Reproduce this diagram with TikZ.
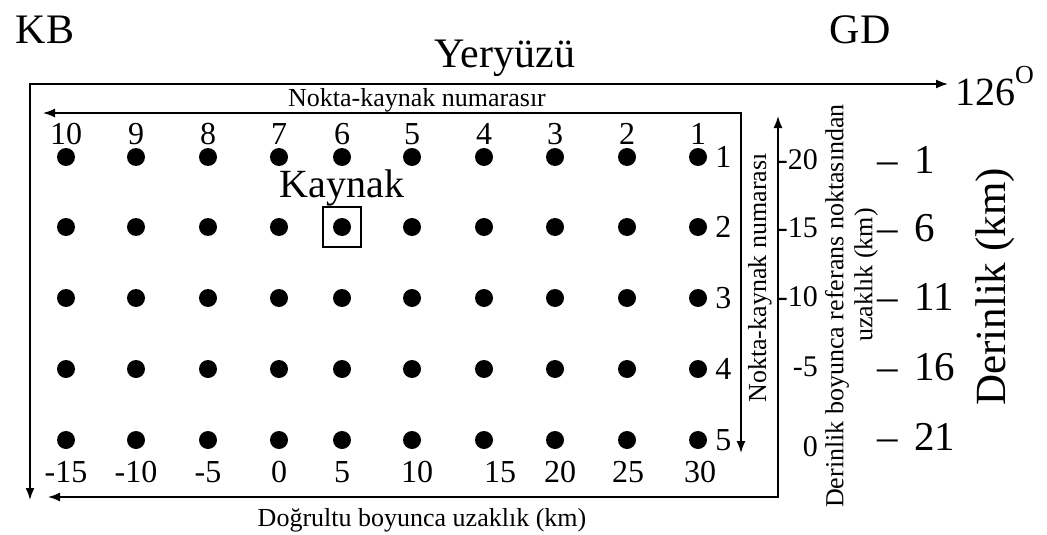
\documentclass[tikz,border=0pt]{standalone}
\usepackage{fontspec}
\setmainfont{Liberation Serif}
\usetikzlibrary{arrows.meta,positioning}
\newcommand\fsz[1]{\fontsize{#1}{#1}\selectfont}
\tikzset{
  dot/.style={circle,fill,inner sep=0pt,minimum size=18pt},
  txt/.style={inner sep=0pt,font=\fsz{#1}},
  txt/.default=32,
  ln/.style={line width=1.5pt},
  tip/.style={-{Latex[length=12pt,width=9pt]}},
  tips/.style={{Latex[length=12pt,width=9pt]}-{Latex[length=12pt,width=9pt]}}
}
\begin{document}
\begin{tikzpicture}[x=1pt,y=-1pt]
\useasboundingbox (0,0) rectangle (1047,535);
\foreach \x [count=\c] in {66,136,208,279,342,412,484,555,627,698}{
  \foreach \y [count=\r] in {157,227,298,369,440}
    \node[dot] (d-\c-\r) at (\x,\y) {};
}
\foreach \c in {1,...,10}{
  \pgfmathtruncatemacro\n{11-\c}
  \node[txt,above=3pt of d-\c-1] (t-\c) {\n};
}
\foreach \v/\dx [count=\c] in {-15/0,-10/0,-5/0,0/0,5/0,10/5,15/16,20/5,25/1,30/2}
  \node[txt,below=12pt of d-\c-5,xshift=\dx pt] (b-\c) {\v};
\foreach \r in {1,...,5}
  \node[txt,right=8pt of d-10-\r] (r-\r) {\r};
\foreach \v/\y [count=\r] in {-20/160,-15/228,-10/297,-5/367,0/447}
  \node[txt=30,anchor=east] (u-\r) at (818,\y) {\v};
\foreach \v/\y [count=\r] in {1/160,6/228,11/297,16/367,21/437}
  \node[txt=41,anchor=west] (z-\r) at (877,\y) {--\hspace{0.4em}\v};
\node[draw,ln,minimum width=38pt,minimum height=40pt] (kutu) at (d-5-2) {};
\node[txt=40,above=0pt of kutu] (kaynak) {Kaynak};
\node[txt=42] (kb) at (45,30) {KB};
\node[txt=42] (gd) at (860,30) {GD};
\node[txt=42] (yer) at (505,58) {Yeryüzü};
\node[txt=40,anchor=west] (aci) at (955,86) {126\raisebox{0.55em}{\fsz{26}O}};
\node[txt=26] (nk-y) at (417,100) {Nokta-kaynak numarasır};
\node[txt=26,rotate=90] (nk-d) at (760,278) {Nokta-kaynak numarası};
\node[txt=26] (dg-y) at (422,520) {Doğrultu boyunca uzaklık (km)};
\node[txt=26,rotate=90] (dr-1) at (837,306) {Derinlik boyunca referans noktasından};
\node[txt=26,rotate=90] (dr-2) at (866,275) {uzaklık (km)};
\node[txt=43,rotate=90] (der) at (995,287) {Derinlik (km)};
\coordinate (s-l) at (30,500);
\coordinate (s-c) at (30,84);
\coordinate (s-r) at (948,84);
\coordinate (nk-l) at (43,113);
\coordinate (nk-c) at (741,113);
\coordinate (nk-b) at (741,453);
\coordinate (dg-l) at (48,497);
\coordinate (dg-c) at (778,497);
\coordinate (dg-t) at (778,116);
\draw[line width=1.8pt,tips] (s-l) -- (s-c) -- (s-r);
\draw[ln,tips] (nk-l) -- (nk-c) -- (nk-b);
\draw[ln,tips] (dg-l) -- (dg-c) -- (dg-t);
\end{tikzpicture}
\end{document}
